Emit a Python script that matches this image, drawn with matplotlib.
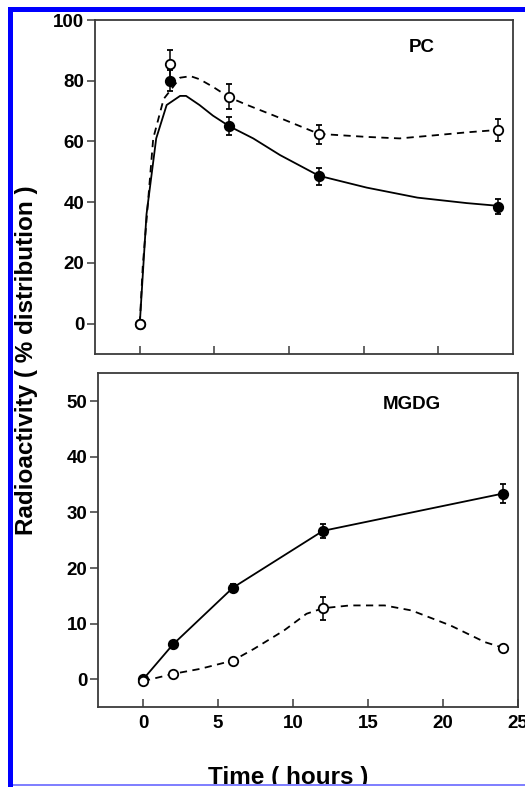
import matplotlib.pyplot as plt
from matplotlib.patches import Rectangle
import numpy as np

plt.rcParams['font.family'] = ['Liberation Sans', 'DejaVu Sans']
plt.rcParams['font.weight'] = 'bold'

# measured points (hours, % distribution)
t_pc = [0, 2, 6, 12, 24]
pc_filled = [0, 80, 65, 48.5, 38.5]
pc_filled_err = [0, 3.5, 3, 2.8, 2.5]
pc_open = [0, 85.5, 74.8, 62.3, 63.8]
pc_open_err = [0, 4.5, 4, 3, 3.5]

# smooth curves drawn through the PC data
pc_solid_t = [0, 0.45, 1.1, 1.8, 2.7, 3.1, 4.0, 4.9, 6.0, 7.6, 9.4, 12.0, 15.2, 18.6, 21.9, 24.0]
pc_solid_v = [0, 36, 61, 72, 75, 75, 72, 68.5, 65, 61, 55.5, 48.7, 44.8, 41.5, 39.7, 38.8]
pc_dash_t = [0, 0.2, 0.9, 1.6, 2.0, 2.7, 3.4, 4.0, 4.9, 6.0, 7.2, 9.0, 12.0, 15.2, 17.4, 19.7, 21.9, 24.0]
pc_dash_v = [0, 19, 61, 74, 76.5, 81, 81.5, 80.5, 78, 74.5, 72, 68.5, 62.5, 61.5, 61, 62, 63, 63.8]

t_mg = [0, 2, 6, 12, 24]
mg_filled = [0, 6.3, 16.5, 26.7, 33.4]
mg_filled_err = [0, 0.3, 0.7, 1.3, 1.7]
mg_open = [-0.3, 1.0, 3.4, 12.8, 5.7]
mg_open_err = [0, 0, 0, 2.1, 0]

mg_dash_t = [0, 2, 3.8, 6, 7.4, 9.4, 10.9, 12, 13.8, 16.1, 17.9, 20.5, 22.8, 24]
mg_dash_v = [-0.3, 1.0, 1.9, 3.4, 5.5, 8.8, 11.8, 12.8, 13.3, 13.3, 12.4, 9.7, 6.7, 5.7]

W, H = 525, 787
fig = plt.figure(figsize=(W / 100, H / 100), dpi=100)

ax1 = fig.add_axes([95 / W, 1 - 354 / H, 418 / W, 334 / H])
ax2 = fig.add_axes([98 / W, 1 - 707.3 / H, 420 / W, 334 / H])

dash = (0, (4, 3))
mk = dict(ms=6.8, mec='black', mew=1.3, capsize=2.5, elinewidth=1.1, capthick=1.1, ecolor='black', ls='none')

# PC panel
ax1.plot(pc_solid_t, pc_solid_v, color='black', lw=1.3)
ax1.plot(pc_dash_t, pc_dash_v, color='black', lw=1.3, ls=dash)
ax1.errorbar(t_pc, pc_filled, yerr=pc_filled_err, fmt='o', mfc='black', zorder=3, **mk)
ax1.errorbar(t_pc, pc_open, yerr=pc_open_err, fmt='o', mfc='white', zorder=4, **mk)
ax1.set_xlim(-3, 25)
ax1.set_ylim(-10, 100)
ax1.set_yticks([0, 20, 40, 60, 80, 100])
ax1.set_xticks([0, 5, 10, 15, 20])
ax1.set_xticklabels([])
ax1.text(18.9, 90.9, 'PC', ha='center', va='center', fontsize=13.5, fontweight='bold')

# MGDG panel
ax2.plot(t_mg, mg_filled, color='black', lw=1.3)
ax2.plot(mg_dash_t, mg_dash_v, color='black', lw=1.3, ls=dash)
ax2.errorbar(t_mg, mg_filled, yerr=mg_filled_err, fmt='o', mfc='black', zorder=3, **mk)
ax2.errorbar(t_mg, mg_open, yerr=mg_open_err, fmt='o', mfc='white', zorder=4, **mk)
ax2.set_xlim(-3, 25)
ax2.set_ylim(-5, 55)
ax2.set_yticks([0, 10, 20, 30, 40, 50])
ax2.set_xticks([0, 5, 10, 15, 20, 25])
ax2.text(17.9, 49.4, 'MGDG', ha='center', va='center', fontsize=13.5, fontweight='bold')

for ax in (ax1, ax2):
    for s in ax.spines.values():
        s.set_color('#3a3a3a')
        s.set_linewidth(1.3)
    ax.tick_params(axis='y', direction='out', length=5.8, width=1.1, pad=2, labelsize=13.5, color='#3a3a3a')
    ax.tick_params(axis='x', direction='in', length=5.8, width=1.1, pad=5.5, labelsize=13.5, color='#3a3a3a')
    for lab in ax.get_xticklabels() + ax.get_yticklabels():
        lab.set_fontweight('bold')

fig.text(27 / W, 1 - 360 / H, 'Radioactivity ( % distribution )', rotation=90,
         ha='center', va='center', fontsize=17.5, fontweight='bold')
fig.text(288 / W, 3 / H, 'Time ( hours )', ha='center', va='baseline',
         fontsize=17.5, fontweight='bold')

# blue frame around the figure, as in the scanned page
tf = fig.transFigure
fig.add_artist(Rectangle((0, 1 - 7 / H), 1, 7 / H, transform=tf, color='white', zorder=10))
fig.add_artist(Rectangle((0, 0), 8 / W, 1, transform=tf, color='white', zorder=10))
fig.add_artist(Rectangle((8 / W, 0), 5 / W, 1 - 7 / H, transform=tf, color='#0000ff', lw=0, zorder=11))
fig.add_artist(Rectangle((8 / W, 1 - 12 / H), 1, 5 / H, transform=tf, color='#0000ff', lw=0, zorder=11))
fig.add_artist(Rectangle((0, 0), 1, 1.5 / H, transform=tf, color='white', zorder=10))
fig.add_artist(Rectangle((13 / W, 1.5 / H), 1, 1.2 / H, transform=tf, color='#8080ff', lw=0, zorder=11))

fig.savefig('out.png', dpi=100)
